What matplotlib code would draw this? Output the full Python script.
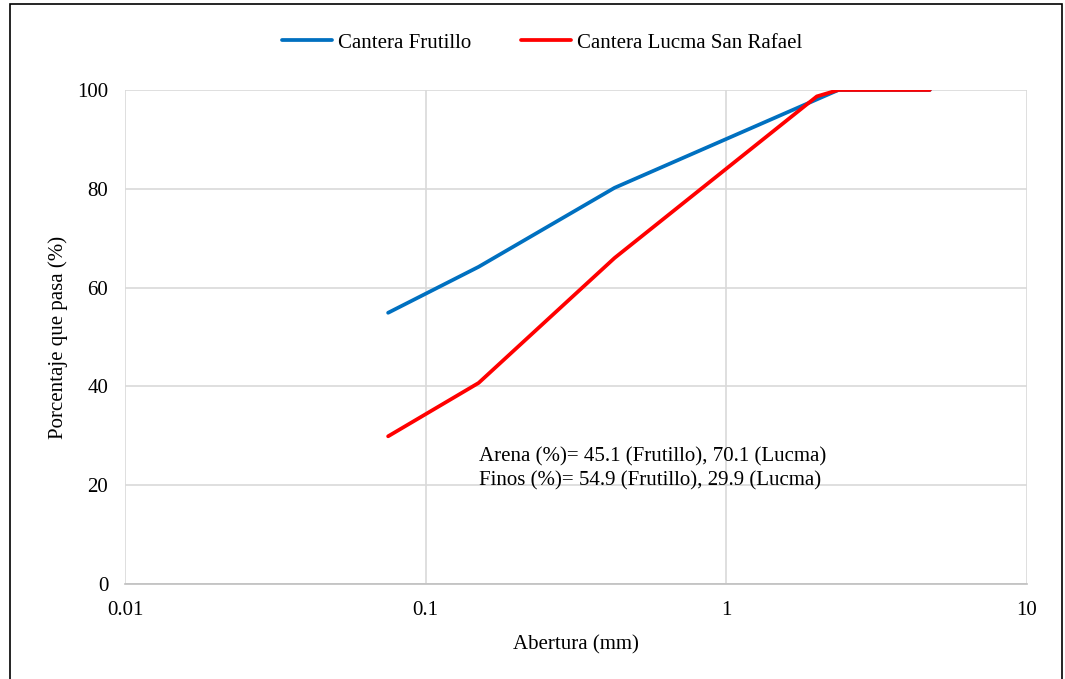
import numpy as np
import matplotlib
matplotlib.use("Agg")
import matplotlib.pyplot as plt
from matplotlib.patches import Rectangle

plt.rcParams['font.family'] = ['Liberation Serif', 'DejaVu Serif']

# Abertura de tamices (mm) y porcentaje que pasa
ab_frut = [0.075, 0.15, 0.425, 2.36, 4.75]
frut_vals = [54.9, 64.2, 80.2, 100.0, 100.0]
ab_lucma = [0.075, 0.15, 0.425, 2.0, 2.36, 4.75]
lucma_vals = [29.9, 40.7, 66.0, 98.7, 100.0, 100.0]

yticks = [0, 20, 40, 60, 80, 100]
xticks = [0.01, 0.1, 1, 10]
xticklabels = ['0.01', '0.1', '1', '10']

FS = 15

fig = plt.figure(figsize=(10.65, 6.79), dpi=100)
ax = fig.add_axes([0.1174, 0.1399, 0.8469, 0.7276])

l1, = ax.plot(ab_frut, frut_vals, color='#0070C0', lw=2.7, solid_capstyle='round',
              label='Cantera Frutillo')
l2, = ax.plot(ab_lucma, lucma_vals, color='#FF0000', lw=2.7, solid_capstyle='round',
              label='Cantera Lucma San Rafael')

ax.set_xscale('log')
ax.set_xlim(0.01, 10)
ax.set_ylim(0, 100)
ax.set_xticks(xticks)
ax.set_xticklabels(xticklabels)
ax.minorticks_off()
ax.set_yticks(yticks)
ax.grid(True, color='#d9d9d9', lw=1.2)
ax.set_axisbelow(True)
for s in ['top', 'right', 'left']:
    ax.spines[s].set_visible(False)
ax.spines['bottom'].set_color('#bfbfbf')
ax.spines['bottom'].set_linewidth(1.2)
ax.tick_params(axis='y', length=0, labelsize=FS, colors='black', pad=12)
ax.tick_params(axis='x', length=0, labelsize=FS, colors='black', pad=12)

ax.set_xlabel('Abertura (mm)', fontsize=FS, labelpad=11)
ax.set_ylabel('Porcentaje que pasa (%)', fontsize=FS, labelpad=7)

ax.text(0.151, 27.6, 'Arena (%)= 45.1 (Frutillo), 70.1 (Lucma)\nFinos (%)= 54.9 (Frutillo), 29.9 (Lucma)',
        fontsize=FS, ha='left', va='top', linespacing=1.32)

fig.legend(handles=[l1, l2], loc='center', bbox_to_anchor=(0.509, 0.937), ncol=2,
           frameon=False, fontsize=FS, handlelength=2.4, columnspacing=2.4, handletextpad=0.3)

fig.patches.append(Rectangle((0.0095, -0.1), 0.988, 1.094, transform=fig.transFigure,
                             fill=False, edgecolor='black', lw=1.2))

fig.savefig('out.png', dpi=100)
